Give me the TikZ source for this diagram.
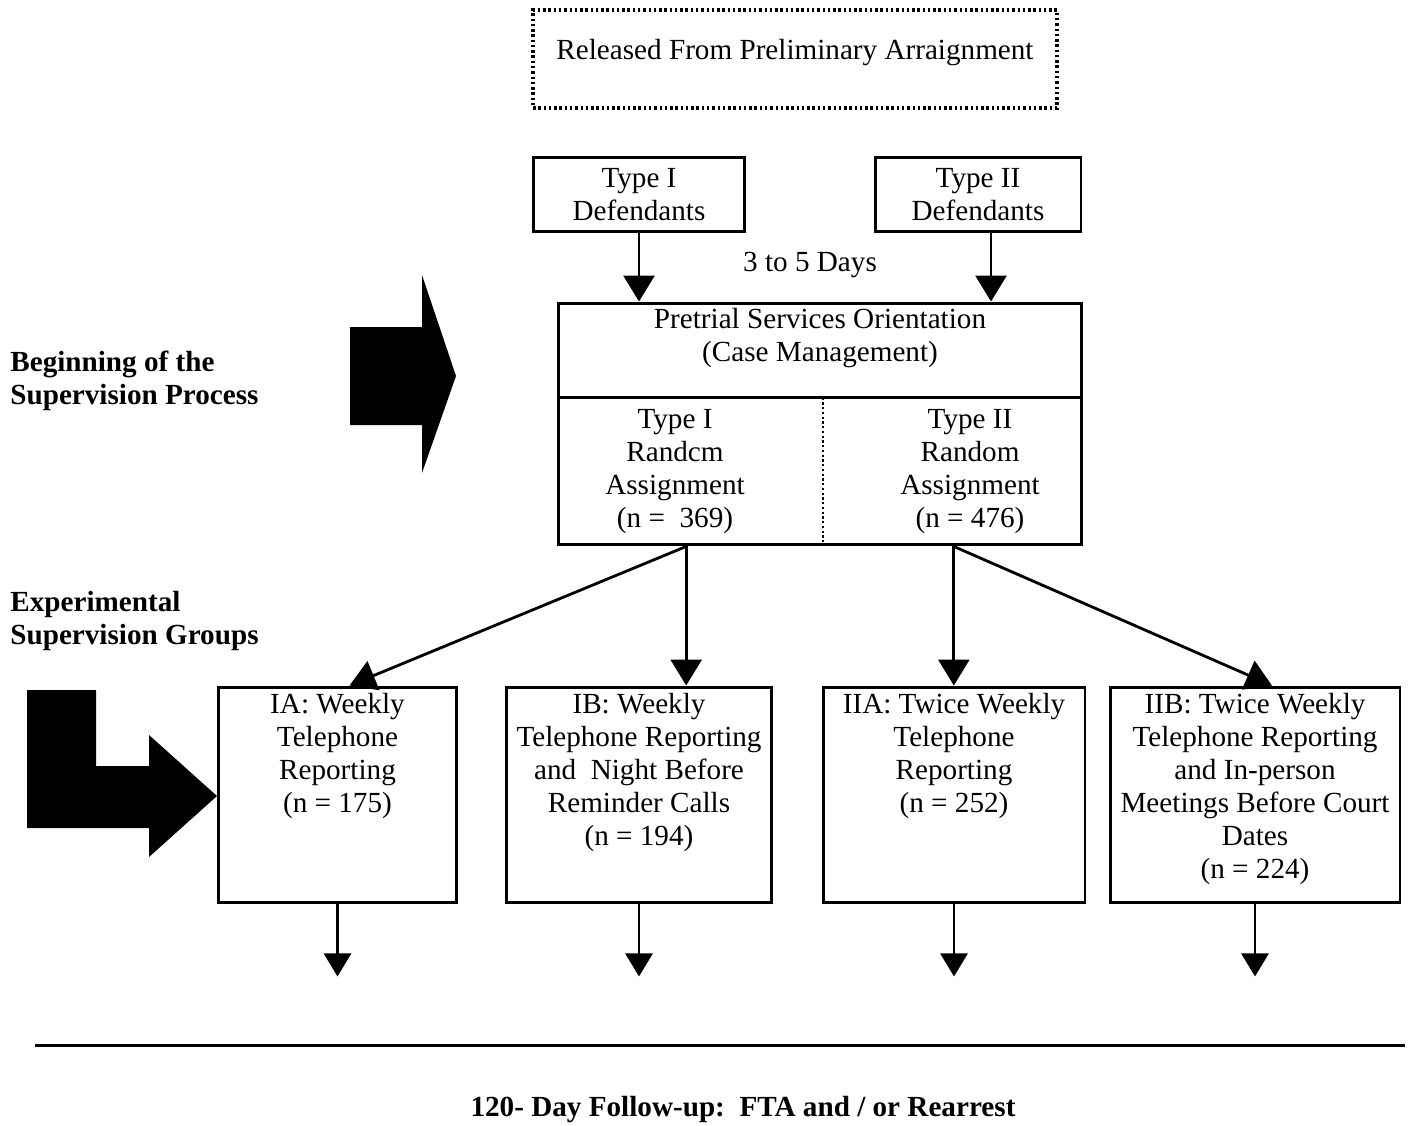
\documentclass[tikz,border=0pt]{standalone}
\usepackage{fontspec}
\setmainfont{Liberation Serif}
\usetikzlibrary{arrows.meta}
\usetikzlibrary{positioning}
\usetikzlibrary{calc}
\newcommand{\taille}{\fontsize{16.6}{18.8}\selectfont}
\tikzstyle{cadre}=[draw,line width=1.7pt,inner sep=0pt,align=center]
\tikzstyle{pointille}=[draw,line width=1.9pt,dash pattern=on 1.4pt off 1.6pt,inner sep=0pt]
\tikzstyle{texte}=[align=center,inner sep=0pt]
\tikzstyle{titre}=[align=left,inner sep=0pt,font=\taille\bfseries,anchor=west]
\tikzstyle{fleche}=[-{Triangle[width=0.62cm,length=0.52cm]},line width=1.6pt]
\tikzstyle{petite}=[-{Triangle[width=0.54cm,length=0.46cm]},line width=1.6pt]

\begin{document}
\begin{tikzpicture}[x=0.02cm,y=-0.02cm,font=\taille]
\useasboundingbox (0,0) rectangle (1408,1125);
\node[pointille,minimum width=10.48cm,minimum height=1.96cm] (rel) at (795,59) {};
\node[texte] (relTxt) at (795,53) {Released From Preliminary Arraignment};
\node[cadre,minimum width=4.24cm,minimum height=1.5cm] (tI) at (639,194.5) {Type I\\Defendants};
\node[cadre,minimum width=4.12cm,minimum height=1.5cm] (tII) at (978,194.5) {Type II\\Defendants};
\node[texte] (jours) at (810,265) {3 to 5 Days};
\node[cadre,minimum width=10.48cm,minimum height=4.84cm] (orient) at (820,424) {};
\node[texte] (orTxt) at (820,338) {Pretrial Services Orientation\\(Case Management)};
\node[texte] (randI) at (675,472) {Type I\\Randcm\\Assignment\\(n = \ 369)};
\node[texte] (randII) at (970,472) {Type II\\Random\\Assignment\\(n = 476)};
\node[titre] (debut) at (10,381) {Beginning of the\\Supervision Process};
\node[titre] (exper) at (10,621) {Experimental\\Supervision Groups};
\node[cadre,minimum width=4.78cm,minimum height=4.32cm] (ia) at (337.5,795) {};
\node[cadre,minimum width=5.32cm,minimum height=4.32cm] (ib) at (639,795) {};
\node[cadre,minimum width=5.24cm,minimum height=4.32cm] (iia) at (954,795) {};
\node[cadre,minimum width=5.80cm,minimum height=4.32cm] (iib) at (1255,795) {};
\node[texte,anchor=north] (iaTxt) at ($(ia.north)+(0,7)$) {IA: Weekly\\Telephone\\Reporting\\(n = 175)};
\node[texte,anchor=north] (ibTxt) at ($(ib.north)+(0,7)$) {IB: Weekly\\Telephone Reporting\\and \ Night Before\\Reminder Calls\\(n = 194)};
\node[texte,anchor=north] (iiaTxt) at ($(iia.north)+(0,7)$) {IIA: Twice Weekly\\Telephone\\Reporting\\(n = 252)};
\node[texte,anchor=north] (iibTxt) at ($(iib.north)+(0,7)$) {IIB: Twice Weekly\\Telephone Reporting\\and In-person\\Meetings Before Court\\Dates\\(n = 224)};
\node[texte,font=\taille\bfseries] (suivi) at (743,1110) {120- Day Follow-up:\ \ FTA and / or Rearrest};
%Coordinates
\coordinate (dII) at ($(tII.south)+(13,0)$);
\coordinate (sepG) at ($(orient.north west)!0.3926!(orient.south west)$);
\coordinate (sepD) at ($(orient.north east)!0.3926!(orient.south east)$);
\coordinate (sepM) at ($(sepG)!0.5057!(sepD)$);
\coordinate (depI) at ($(orient.south west)!0.246!(orient.south east)$);
\coordinate (depII) at ($(orient.south west)!0.754!(orient.south east)$);
\coordinate (regG) at (35,1045);
\coordinate (regD) at (1405,1045);
%Drawing Edges
\draw[line width=1.7pt] (sepG) -- (sepD);
\draw[line width=1.6pt,dash pattern=on 1.3pt off 1.4pt] (sepM) -- (sepM |- orient.south);
\draw[fleche] (tI.south) -- (tI.south |- orient.north);
\draw[fleche] (dII) -- (dII |- orient.north);
\draw[fleche] (depI) -- ($(ia.north)+(12,0)$);
\draw[fleche] (depI) -- (depI |- ib.north);
\draw[fleche] (depII) -- (depII |- iia.north);
\draw[fleche] (depII) -- ($(iib.north)+(17,0)$);
\draw[petite] (ia.south) -- ($(ia.south)+(0,72)$);
\draw[petite] (ib.south) -- ($(ib.south)+(0,72)$);
\draw[petite] (iia.south) -- ($(iia.south)+(0,72)$);
\draw[petite] (iib.south) -- ($(iib.south)+(0,72)$);
\draw[line width=1.7pt] (regG) -- (regD);
%Big arrows
\fill (350,327) -- (422,327) -- (422,275) -- (456,376) -- (422,473) -- (422,425) -- (350,425) -- cycle;
\fill (27,690) -- (96,690) -- (96,766) -- (149,766) -- (149,735) -- (217,796) -- (149,857) -- (149,828) -- (27,828) -- cycle;
\end{tikzpicture}
\end{document}
